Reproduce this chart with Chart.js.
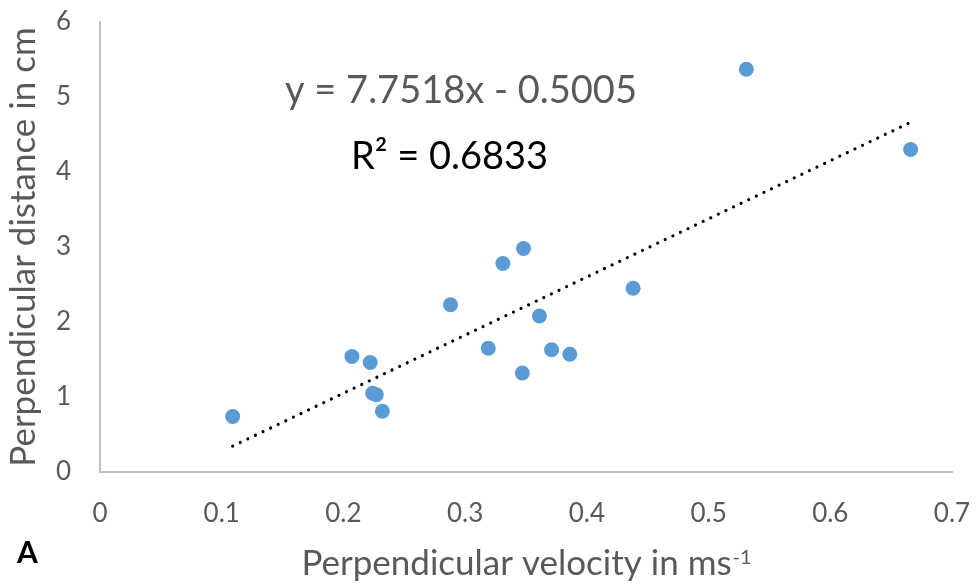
<!DOCTYPE html>
<html>
<head>
<meta charset="utf-8">
<script src="https://cdn.jsdelivr.net/npm/chart.js@4"></script>
<style>
  html, body { margin: 0; padding: 0; background: #ffffff; }
  #wrap { width: 978px; height: 585px; }
</style>
</head>
<body>
<div id="wrap"><canvas id="c" width="978" height="585"></canvas></div>
<script>
// ---- data ----
const velocity = [0.109, 0.207, 0.222, 0.224, 0.227, 0.232, 0.288, 0.319, 0.331, 0.348, 0.347, 0.361, 0.371, 0.386, 0.438, 0.531, 0.666];
const distance = [0.74, 1.54, 1.46, 1.05, 1.03, 0.81, 2.23, 1.65, 2.78, 2.98, 1.32, 2.08, 1.63, 1.57, 2.45, 5.37, 4.30];
const xTickLabels = ['0', '0.1', '0.2', '0.3', '0.4', '0.5', '0.6', '0.7'];
const yTickLabels = ['0', '1', '2', '3', '4', '5', '6'];
const trendSlope = 7.7518;
const trendIntercept = -0.5005;
const rSquared = 0.6833;
const xTitle = 'Perpendicular velocity in ms';
const xTitleSup = '-1';
const yTitle = 'Perpendicular distance in cm';
const panelLabel = 'A';

const points = velocity.map((v, i) => ({ x: v, y: distance[i] }));
const xMin = Math.min(...velocity), xMax = Math.max(...velocity);
const trend = [xMin, xMax].map(x => ({ x: x, y: trendSlope * x + trendIntercept }));

const GRAY = '#595959';
const FONT = 'Lato, "Open Sans", sans-serif';

const textPlugin = {
  id: 'texts',
  afterDraw(chart) {
    const ctx = chart.ctx;
    const ca = chart.chartArea;
    ctx.save();
    // equation
    ctx.textAlign = 'left';
    ctx.textBaseline = 'alphabetic';
    ctx.fillStyle = GRAY;
    ctx.font = '38px ' + FONT;
    ctx.fillText('y = ' + trendSlope.toFixed(4) + 'x - ' + Math.abs(trendIntercept).toFixed(4), 285, 103);
    ctx.fillStyle = '#000000';
    ctx.fillText('R\u00B2 = ' + rSquared.toFixed(4), 351, 169);

    // y title
    ctx.save();
    ctx.translate(35, (ca.top + ca.bottom) / 2);
    ctx.rotate(-Math.PI / 2);
    ctx.textAlign = 'center';
    ctx.fillStyle = GRAY;
    ctx.font = '35px ' + FONT;
    ctx.fillText(yTitle, 0, 0);
    ctx.restore();

    // x title with superscript
    ctx.font = '35px ' + FONT;
    const w1 = ctx.measureText(xTitle).width;
    ctx.font = '20px ' + FONT;
    const w2 = ctx.measureText(xTitleSup).width;
    const cx = (ca.left + ca.right) / 2;
    const startX = cx - (w1 + w2) / 2;
    ctx.fillStyle = GRAY;
    ctx.font = '35px ' + FONT;
    ctx.fillText(xTitle, startX, 575);
    ctx.font = '20px ' + FONT;
    ctx.fillText(xTitleSup, startX + w1 + 1, 564);

    // panel label
    ctx.fillStyle = '#000000';
    ctx.font = 'bold 30px ' + FONT;
    ctx.fillText(panelLabel, 17, 563);
    ctx.restore();
  }
};

new Chart(document.getElementById('c'), {
  type: 'scatter',
  data: {
    datasets: [
      {
        type: 'scatter',
        data: points,
        backgroundColor: '#5b9bd5',
        borderWidth: 0,
        pointRadius: 7.5,
        pointHoverRadius: 7.5,
        order: 1
      },
      {
        type: 'line',
        data: trend,
        borderColor: '#000000',
        borderWidth: 3.2,
        borderDash: [0.01, 8.4],
        borderCapStyle: 'round',
        pointRadius: 0,
        fill: false,
        order: 2
      }
    ]
  },
  options: {
    responsive: false,
    animation: false,
    devicePixelRatio: 1,
    layout: { autoPadding: false, padding: { top: 22, right: 26, left: 0, bottom: 0 } },
    plugins: { legend: { display: false }, tooltip: { enabled: false } },
    scales: {
      x: {
        type: 'linear',
        min: 0,
        max: 0.7,
        afterBuildTicks(scale) {
          scale.ticks = xTickLabels.map(t => ({ value: parseFloat(t) }));
        },
        afterFit(scale) {
          scale.height = 113;
          scale.paddingLeft = 0; scale.paddingRight = 0;
        },
        grid: { display: false, drawTicks: false },
        border: { display: true, color: '#bfbfbf', width: 2 },
        ticks: {
          color: GRAY,
          font: { family: FONT, size: 26 },
          padding: 26,
          maxRotation: 0,
          callback: (v, i) => xTickLabels[i]
        }
      },
      y: {
        type: 'linear',
        min: 0,
        max: 6,
        afterBuildTicks(scale) {
          scale.ticks = yTickLabels.map(t => ({ value: parseFloat(t) }));
        },
        afterFit(scale) {
          scale.width = 100;
          scale.paddingTop = 0; scale.paddingBottom = 0;
        },
        grid: { display: false, drawTicks: false },
        border: { display: true, color: '#bfbfbf', width: 2 },
        ticks: {
          color: GRAY,
          font: { family: FONT, size: 26 },
          padding: 29,
          callback: (v, i) => yTickLabels[i]
        }
      }
    }
  },
  plugins: [textPlugin]
});
</script>
</body>
</html>
